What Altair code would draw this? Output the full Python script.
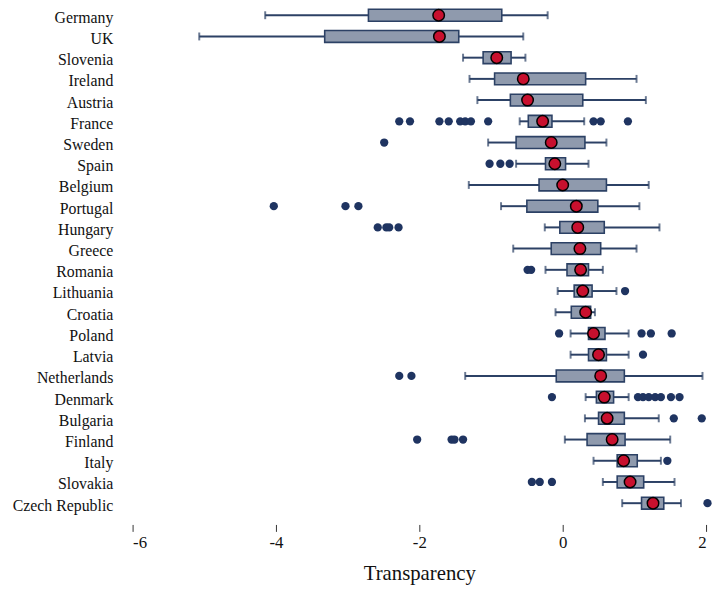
import altair as alt
import pandas as pd

countries = ["Germany", "UK", "Slovenia", "Ireland", "Austria", "France", "Sweden",
             "Spain", "Belgium", "Portugal", "Hungary", "Greece", "Romania", "Lithuania",
             "Croatia", "Poland", "Latvia", "Netherlands", "Denmark", "Bulgaria",
             "Finland", "Italy", "Slovakia", "Czech Republic"]
whisker_low = [-4.15, -5.07, -1.39, -1.30, -1.19, -0.60, -1.04, -0.65, -1.31, -0.86,
               -0.25, -0.69, -0.24, -0.07, -0.10, 0.11, 0.11, -1.36, 0.32, 0.31,
               0.03, 0.43, 0.56, 0.83]
q1 = [-2.71, -3.32, -1.11, -0.95, -0.73, -0.48, -0.65, -0.24, -0.33, -0.50,
      -0.04, -0.16, 0.06, 0.16, 0.12, 0.36, 0.36, -0.09, 0.47, 0.50,
      0.34, 0.76, 0.76, 1.10]
means = [-1.73, -1.72, -0.92, -0.55, -0.49, -0.28, -0.16, -0.11, 0.00, 0.19,
         0.21, 0.24, 0.25, 0.28, 0.32, 0.43, 0.50, 0.53, 0.58, 0.62,
         0.69, 0.85, 0.94, 1.26]
q3 = [-0.85, -1.45, -0.72, 0.32, 0.28, -0.15, 0.31, 0.04, 0.61, 0.49,
      0.58, 0.53, 0.36, 0.41, 0.39, 0.59, 0.61, 0.86, 0.71, 0.86,
      0.87, 1.04, 1.13, 1.41]
whisker_high = [-0.21, -0.55, -0.52, 1.03, 1.16, 0.30, 0.61, 0.36, 1.20, 1.07,
                1.35, 1.03, 0.56, 0.75, 0.45, 0.92, 0.92, 1.95, 0.92, 1.34,
                1.50, 1.37, 1.56, 1.65]
outliers = [
    [], [], [], [], [],
    [-2.28, -2.13, -1.72, -1.59, -1.43, -1.36, -1.28, -1.04, 0.43, 0.53, 0.91],
    [-2.49],
    [-1.02, -0.87, -0.74],
    [],
    [-4.03, -3.03, -2.85],
    [-2.58, -2.46, -2.42, -2.29],
    [],
    [-0.49, -0.44],
    [0.87],
    [],
    [-0.05, 1.10, 1.23, 1.52],
    [1.12],
    [-2.28, -2.11],
    [-0.15, 1.05, 1.12, 1.20, 1.29, 1.37, 1.51, 1.63],
    [1.55, 1.94],
    [-2.03, -1.55, -1.51, -1.39],
    [1.46],
    [-0.43, -0.32, -0.15],
    [2.02],
]
x_ticks = [-6, -4, -2, 0, 2]

box_df = pd.DataFrame({"country": countries, "wl": whisker_low, "q1": q1,
                       "mean": means, "q3": q3, "wh": whisker_high})
out_df = pd.DataFrame([{"country": c, "value": v}
                       for c, vals in zip(countries, outliers) for v in vals])

navy = "#2c4165"
box_fill = "#8f9aad"
dot_col = "#1f3461"
red = "#c8102e"
font = "Liberation Serif"

yenc = alt.Y("country:N", sort=countries,
             scale=alt.Scale(type="point", padding=0.1864),
             axis=alt.Axis(title=None, domain=False, ticks=False, tickSize=0,
                           labelPadding=20, labelFont=font, labelFontSize=16,
                           labelOffset=2, labelColor="#111111", grid=False))
xscale = alt.Scale(domain=[-6, 2], nice=False, zero=False)
xaxis = alt.Axis(title="Transparency", values=x_ticks,
                 labelExpr="datum.value < 0 ? '-' + abs(datum.value) : '' + datum.value",
                 domain=False, grid=False, offset=17.5, tickSize=7,
                 tickColor="#333333", tickWidth=1, labelPadding=3,
                 labelFont=font, labelFontSize=17, labelColor="#111111",
                 titleFont=font, titleFontSize=21, titleFontWeight="normal",
                 titleColor="#111111", titlePadding=13)

base = alt.Chart(box_df)

lower_whisker = base.mark_rule(color=navy, strokeWidth=2).encode(
    x=alt.X("wl:Q", scale=xscale, axis=xaxis), x2="q1:Q", y=yenc)
upper_whisker = base.mark_rule(color=navy, strokeWidth=2).encode(
    x=alt.X("q3:Q", scale=xscale, axis=xaxis), x2="wh:Q", y=yenc)
cap_low = base.mark_tick(color=navy, thickness=2, size=8).encode(
    x=alt.X("wl:Q", scale=xscale, axis=xaxis), y=yenc)
cap_high = base.mark_tick(color=navy, thickness=2, size=8).encode(
    x=alt.X("wh:Q", scale=xscale, axis=xaxis), y=yenc)
box = base.mark_bar(fill=box_fill, stroke=navy, strokeWidth=1.6, size=12).encode(
    x=alt.X("q1:Q", scale=xscale, axis=xaxis), x2="q3:Q", y=yenc)
outl = alt.Chart(out_df).mark_circle(color=dot_col, opacity=1, size=70).encode(
    x=alt.X("value:Q", scale=xscale, axis=xaxis), y=yenc)
mean_pt = base.mark_point(filled=True, fill=red, stroke="black", strokeWidth=1.5,
                          opacity=1, size=135, shape="circle").encode(
    x=alt.X("mean:Q", scale=xscale, axis=xaxis), y=yenc)

chart = alt.layer(lower_whisker, upper_whisker, cap_low, cap_high, box, outl, mean_pt).properties(
    width=580, height=501.5,
    background="white",
    autosize=alt.AutoSizeParams(type="none"),
    padding={"left": 126, "top": 0, "right": 6, "bottom": 83},
).configure_view(stroke=None, strokeWidth=0).configure_axis(domain=False, grid=False)

chart.save("out.html", embed_options={"renderer": "svg", "actions": False})
